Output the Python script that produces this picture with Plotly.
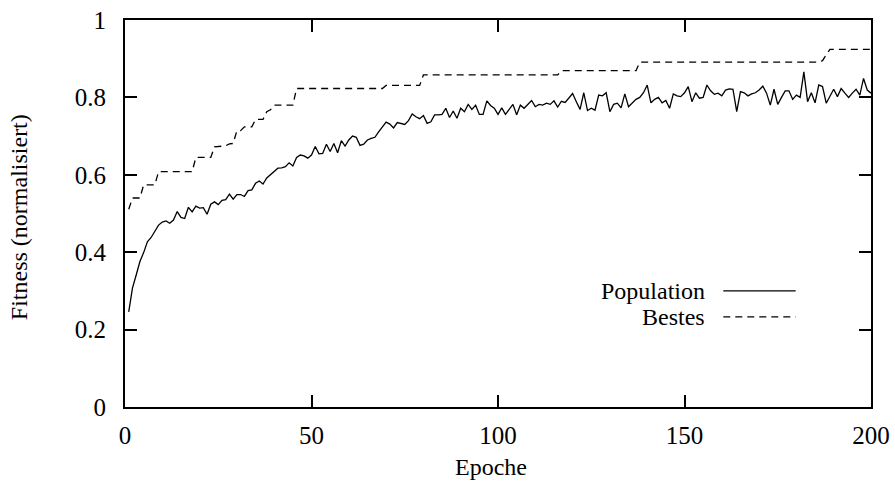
import plotly.graph_objects as go

# Fitness der Population je Epoche (Epoche 1..200)
population_fitness = [
    0.246, 0.307, 0.341, 0.376, 0.399, 0.427, 0.438, 0.456, 0.470, 0.478,
    0.481, 0.475, 0.483, 0.505, 0.490, 0.487, 0.516, 0.504, 0.519, 0.514,
    0.515, 0.498, 0.524, 0.530, 0.523, 0.534, 0.536, 0.550, 0.537, 0.549,
    0.549, 0.544, 0.559, 0.561, 0.578, 0.584, 0.576, 0.592, 0.601, 0.610,
    0.617, 0.618, 0.621, 0.631, 0.623, 0.645, 0.651, 0.649, 0.643, 0.651,
    0.673, 0.654, 0.655, 0.679, 0.660, 0.681, 0.657, 0.688, 0.674, 0.690,
    0.700, 0.697, 0.676, 0.679, 0.690, 0.694, 0.697, 0.711, 0.724, 0.736,
    0.731, 0.721, 0.735, 0.733, 0.730, 0.740, 0.757, 0.750, 0.745, 0.753,
    0.733, 0.737, 0.755, 0.755, 0.756, 0.772, 0.748, 0.765, 0.746, 0.772,
    0.763, 0.782, 0.769, 0.780, 0.756, 0.756, 0.791, 0.779, 0.772, 0.756,
    0.773, 0.756, 0.769, 0.782, 0.755, 0.780, 0.772, 0.782, 0.792, 0.776,
    0.782, 0.780, 0.785, 0.782, 0.791, 0.775, 0.790, 0.787, 0.800, 0.810,
    0.789, 0.769, 0.812, 0.766, 0.772, 0.767, 0.806, 0.804, 0.812, 0.763,
    0.782, 0.785, 0.773, 0.809, 0.776, 0.786, 0.795, 0.800, 0.812, 0.832,
    0.786, 0.795, 0.800, 0.786, 0.792, 0.772, 0.809, 0.804, 0.802, 0.812,
    0.828, 0.789, 0.812, 0.798, 0.800, 0.832, 0.817, 0.808, 0.811, 0.804,
    0.819, 0.822, 0.821, 0.763, 0.815, 0.812, 0.804, 0.809, 0.812, 0.819,
    0.829, 0.811, 0.780, 0.821, 0.782, 0.800, 0.817, 0.817, 0.795, 0.806,
    0.800, 0.866, 0.789, 0.812, 0.786, 0.832, 0.828, 0.785, 0.802, 0.821,
    0.802, 0.823, 0.811, 0.800, 0.811, 0.821, 0.806, 0.849, 0.819, 0.811,
]
population_epochs = list(range(1, len(population_fitness) + 1))

# Bestes Individuum: Eckpunkte der Stufenkurve
best_epochs = [1, 2, 4, 5, 8, 9, 18, 19, 23, 24, 27, 28, 29, 30, 31, 32, 34, 35,
               37, 38, 39, 40, 45, 46, 69, 70, 79, 80, 116, 117, 137, 138,
               186, 187, 188, 189, 200]
best_fitness = [0.511, 0.540, 0.540, 0.574, 0.574, 0.608, 0.608, 0.645, 0.645,
                0.672, 0.675, 0.680, 0.681, 0.714, 0.714, 0.724, 0.724, 0.743,
                0.743, 0.763, 0.768, 0.780, 0.780, 0.823, 0.823, 0.831, 0.831,
                0.858, 0.858, 0.869, 0.869, 0.891, 0.891, 0.895, 0.910, 0.924,
                0.924]

x_ticks = [0, 50, 100, 150, 200]
y_ticks = [0, 0.2, 0.4, 0.6, 0.8, 1]
legend_labels = ['Population', 'Bestes']

font_family = 'Liberation Serif, Times New Roman, serif'
font_size = 24

fig = go.Figure()

fig.add_trace(go.Scatter(
    x=population_epochs, y=population_fitness, mode='lines',
    line=dict(color='black', width=1.3), name=legend_labels[0], showlegend=False
))
fig.add_trace(go.Scatter(
    x=best_epochs, y=best_fitness, mode='lines',
    line=dict(color='black', width=1.3, dash='7px,5px'), name=legend_labels[1],
    showlegend=False
))

axis_style = dict(
    showline=True, linecolor='black', linewidth=2, mirror='ticks',
    ticks='inside', ticklen=12, tickwidth=2, tickcolor='black',
    showgrid=False, zeroline=False, automargin=False,
    ticklabeloverflow='allow',
    tickfont=dict(family=font_family, size=25, color='black'),
)

fig.update_layout(
    width=895, height=482,
    margin=dict(l=125, r=24, t=20, b=75),
    paper_bgcolor='white', plot_bgcolor='white',
    font=dict(family=font_family, size=font_size, color='black'),
    xaxis=dict(range=[0, 200], tickvals=x_ticks, ticklabelstandoff=5, **axis_style),
    yaxis=dict(range=[0, 1], tickvals=y_ticks, ticklabelstandoff=12, **axis_style),
)

# Achsentitel
fig.add_annotation(text='Epoche', xref='paper', yref='paper', x=0.491, y=-0.155,
                   xanchor='center', yanchor='middle', showarrow=False)
fig.add_annotation(text='Fitness (normalisiert)', xref='paper', yref='paper',
                   x=-0.141, y=0.49, textangle=-90, xanchor='center',
                   yanchor='middle', showarrow=False)

# Legende im gnuplot-Stil: Text rechtsbuendig, Linie rechts daneben
legend_y = [0.300, 0.233]
legend_dash = ['solid', '7px,5px']
for label, ly, dash in zip(legend_labels, legend_y, legend_dash):
    fig.add_annotation(text=label, xref='paper', yref='paper', x=0.779, y=ly,
                       xanchor='right', yanchor='middle', showarrow=False,
                       borderpad=0)
    fig.add_shape(type='line', xref='paper', yref='paper', x0=0.802, x1=0.899,
                  y0=ly, y1=ly, line=dict(color='black', width=1.3, dash=dash))

# Seitenrand entfernen, damit die Grafik genau das Fenster fuellt
fig.write_html('out.html', config={'displayModeBar': False},
               post_script="document.body.style.margin='0px';")
